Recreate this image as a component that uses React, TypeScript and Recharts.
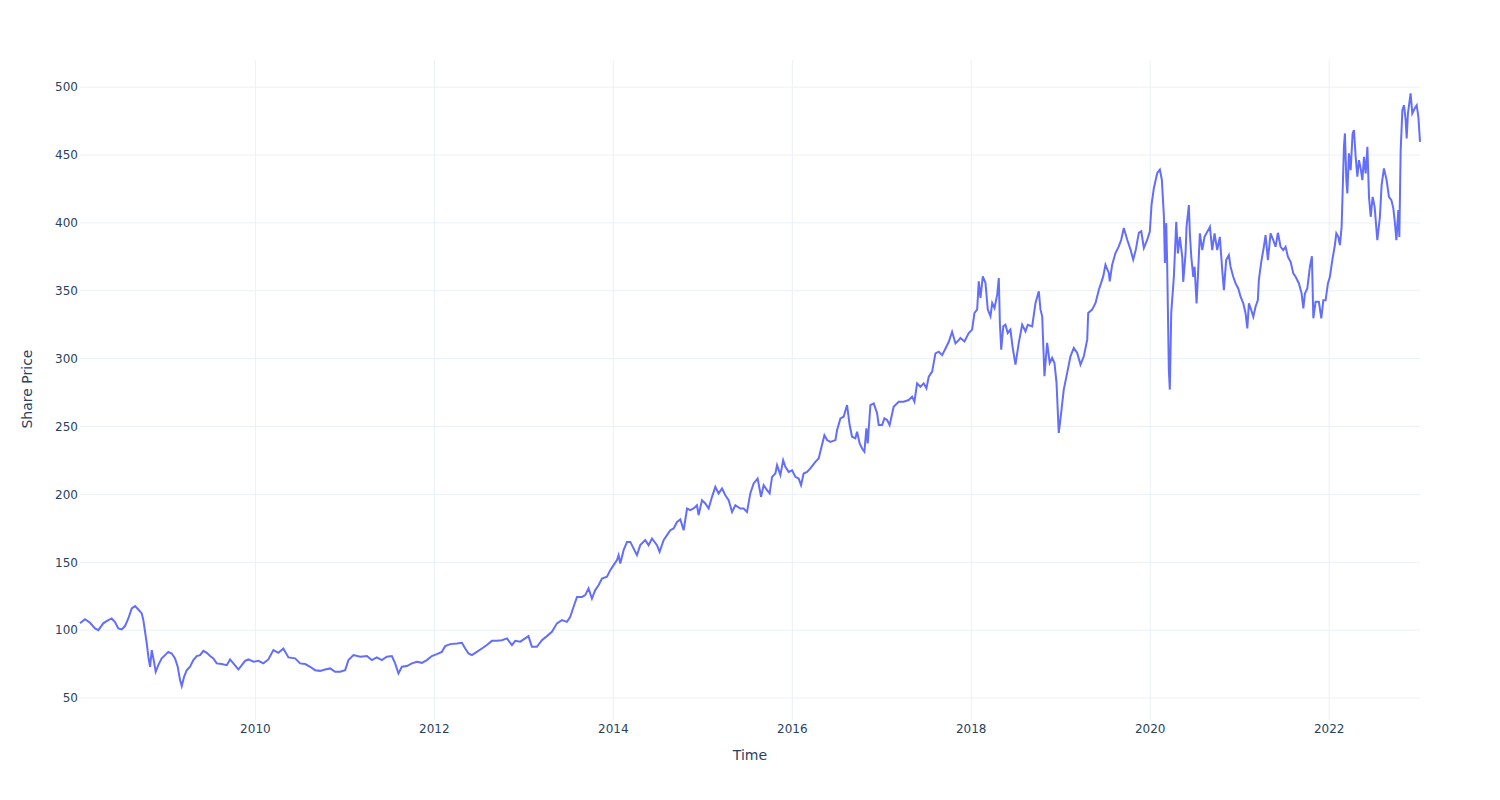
import { LineChart, Line, XAxis, YAxis, ReferenceLine } from "recharts";

// time in decimal years, price
const years2008 = [
  2008.040, 2008.096, 2008.152, 2008.208, 2008.245, 2008.300, 2008.356, 2008.394, 2008.431, 2008.468, 2008.506,
  2008.543, 2008.580, 2008.618, 2008.655, 2008.692, 2008.730, 2008.748, 2008.767, 2008.786,
  2008.804, 2008.823, 2008.842, 2008.867, 2008.886, 2008.915, 2008.953, 2008.990,
  2009.027, 2009.065, 2009.102, 2009.132, 2009.158, 2009.177, 2009.203, 2009.233, 2009.270, 2009.307, 2009.345, 2009.382, 2009.419,
  2009.457, 2009.494, 2009.530, 2009.568, 2009.624, 2009.680, 2009.717, 2009.754, 2009.810, 2009.848, 2009.885, 2009.922, 2009.978,
  2010.034, 2010.089, 2010.145, 2010.201, 2010.257, 2010.313, 2010.369, 2010.444, 2010.500, 2010.556, 2010.612, 2010.667,
  2010.723, 2010.779, 2010.835, 2010.891, 2010.947,
];
const prices2008 = [
  105, 108, 105.4, 101.2, 100, 105, 107.4, 108.6, 106, 101.2, 100.5,
  103, 108.6, 116, 117.7, 115.2, 112.3, 107.4, 98.8, 90.2,
  80.4, 73, 85.3, 76.7, 69.3, 74.2, 79.2, 81.6,
  84, 82.8, 79.2, 73, 63.2, 58.8, 65.6, 70.5, 73, 78, 80.9, 81.6, 84.8,
  83.3, 80.9, 79.2, 75.5, 75, 74.2, 78.4, 75.5, 71, 74.2, 77.4, 78.4, 76.7,
  77.4, 75.5, 78.4, 85.3, 83.3, 86.5, 79.9, 79.2, 75.5, 75, 73, 70.5,
  70, 71, 71.8, 69.3, 69.3,
];

const years2011 = [
  2011.003, 2011.040, 2011.096, 2011.171, 2011.246, 2011.301, 2011.357, 2011.413, 2011.469, 2011.525,
  2011.562, 2011.599, 2011.637, 2011.693, 2011.749, 2011.805, 2011.861, 2011.916, 2011.972,
  2012.028, 2012.084, 2012.121, 2012.177, 2012.252, 2012.308, 2012.345, 2012.382, 2012.420, 2012.475,
  2012.531, 2012.587, 2012.643, 2012.699, 2012.755, 2012.811, 2012.867, 2012.904, 2012.960,
  2013.015, 2013.052, 2013.090, 2013.146, 2013.202, 2013.258, 2013.314, 2013.370, 2013.426, 2013.482, 2013.519,
  2013.556, 2013.594, 2013.650, 2013.686, 2013.723, 2013.761, 2013.798, 2013.835, 2013.873, 2013.929, 2013.966,
  2014.003, 2014.041, 2014.059, 2014.078, 2014.115, 2014.153, 2014.190, 2014.226, 2014.264, 2014.301,
  2014.357, 2014.394, 2014.432, 2014.488, 2014.517, 2014.562, 2014.600, 2014.637, 2014.674, 2014.712,
  2014.749, 2014.786, 2014.824, 2014.860, 2014.897, 2014.935, 2014.953, 2014.991,
];
const prices2011 = [
  70.5, 77.9, 81.6, 80.4, 80.9, 77.9, 79.9, 77.9, 80.4, 80.9,
  75.5, 68.1, 73, 73.5, 75.5, 76.7, 75.9, 77.9, 80.9,
  82.3, 84, 88.2, 89.7, 90.2, 90.7, 86.5, 82.8, 81.6, 84,
  86.5, 89, 92.1, 92.1, 92.6, 93.9, 89, 92.1, 91.5,
  93.9, 95.6, 87.7, 87.7, 92.6, 95.6, 98.8, 105, 107.4, 106.1, 109.8,
  117.2, 124.5, 124.5, 125.8, 130.7, 123.3, 129.5, 133.1, 138, 139.3, 144.2,
  147.9, 151.6, 155.2, 149.1, 158.9, 165, 165, 160.2, 155.2, 162.6,
  166.3, 162.6, 167.5, 162.6, 157.7, 166.3, 170, 173.6, 174.9, 179.7,
  181.5, 173.6, 189.6, 188.4, 189.6, 192, 184.7, 195.7,
];

const years2015 = [
  2015.028, 2015.065, 2015.103, 2015.140, 2015.177, 2015.215, 2015.252, 2015.289, 2015.327, 2015.364,
  2015.419, 2015.456, 2015.494, 2015.531, 2015.568, 2015.613, 2015.651, 2015.680, 2015.718, 2015.747,
  2015.774, 2015.811, 2015.830, 2015.867, 2015.898, 2015.923, 2015.960, 2015.998,
  2016.035, 2016.071, 2016.098, 2016.127, 2016.165, 2016.202, 2016.258, 2016.295, 2016.322, 2016.359,
  2016.389, 2016.426, 2016.482, 2016.501, 2016.538, 2016.574, 2016.612, 2016.641, 2016.668, 2016.705,
  2016.724, 2016.753, 2016.780, 2016.806, 2016.828, 2016.843, 2016.873, 2016.910, 2016.948, 2016.966,
  2017.004, 2017.029, 2017.059, 2017.088, 2017.133, 2017.189, 2017.245, 2017.301, 2017.339, 2017.365,
  2017.395, 2017.432, 2017.469, 2017.499, 2017.525, 2017.563, 2017.600, 2017.637, 2017.675, 2017.712,
  2017.749, 2017.786, 2017.824, 2017.860, 2017.879, 2017.924, 2017.972,
];
const prices2015 = [
  193.3, 189.6, 198.2, 205.5, 200.7, 204.3, 199.4, 195.7, 187.1, 192,
  189.6, 189.6, 187.1, 200.7, 208.1, 211.7, 198.2, 206.8, 203.1, 200.7,
  212.9, 215.4, 221.5, 214.2, 225.2, 220.3, 216.6, 217.8,
  212.9, 211.7, 206.8, 215.4, 216.6, 219.1, 224, 226.5, 233.8, 243.6,
  240, 238.7, 240, 247.4, 256, 257.2, 265.8, 251.1, 242.5, 241.3,
  246.2, 237.6, 233.8, 231.4, 248.6, 237.6, 265.8, 267, 259.7, 251.1,
  251.1, 256, 254.8, 251.1, 264.6, 268.3, 268.3, 269.5, 272, 268.3,
  281.8, 279.3, 281.8, 278.1, 286.7, 290.4, 303.9, 305.1, 302.6, 307.5,
  312.4, 319.8, 311.2, 313.6, 315.2, 312.7, 318.9,
];

const years2018 = [
  2018.010, 2018.036, 2018.066, 2018.084, 2018.103, 2018.129, 2018.159, 2018.185, 2018.215, 2018.234,
  2018.260, 2018.290, 2018.308, 2018.320, 2018.335, 2018.358, 2018.382, 2018.408, 2018.438, 2018.461,
  2018.494, 2018.531, 2018.569, 2018.606, 2018.632, 2018.681, 2018.718, 2018.755, 2018.774, 2018.793,
  2018.818, 2018.848, 2018.877, 2018.904, 2018.930, 2018.953, 2018.978,
  2019.005, 2019.034, 2019.072, 2019.109, 2019.146, 2019.184, 2019.221, 2019.258, 2019.296, 2019.307,
  2019.351, 2019.389, 2019.426, 2019.445, 2019.475, 2019.500, 2019.537, 2019.548, 2019.575, 2019.612,
  2019.649, 2019.676, 2019.705, 2019.743, 2019.780, 2019.810, 2019.839, 2019.873, 2019.900, 2019.929,
  2019.967, 2019.996,
];
const prices2018 = [
  321.4, 333.7, 336.1, 357, 344.7, 360.6, 355.8, 336.1, 331.2, 341,
  337.3, 347.1, 359.4, 326.3, 306.6, 323.8, 325, 318.9, 321.4, 309.1,
  295.6, 311.6, 325, 320.1, 325, 323.8, 341, 349.6, 336.1, 331.2,
  287, 311.6, 296.8, 300.5, 296.8, 282.1, 245.3,
  260, 277.2, 289.5, 301.7, 307.9, 304.2, 295.6, 301.7, 314, 333.7,
  336.1, 341, 350.8, 354.5, 360.6, 369.2, 363.1, 357, 369.2, 377.8,
  382.7, 387.6, 396.3, 387.6, 380.3, 372.9, 380.3, 392.6, 393.8, 381.5,
  387.6, 393.8,
];

const years2020 = [
  2020.015, 2020.041, 2020.079, 2020.108, 2020.130, 2020.153, 2020.164, 2020.179, 2020.190, 2020.208,
  2020.219, 2020.235, 2020.264, 2020.291, 2020.309, 2020.331, 2020.358, 2020.369, 2020.395, 2020.406,
  2020.432, 2020.443, 2020.459, 2020.481, 2020.496, 2020.518, 2020.533, 2020.555, 2020.582, 2020.607,
  2020.638, 2020.667, 2020.693, 2020.719, 2020.749, 2020.778, 2020.805, 2020.823, 2020.849, 2020.879,
  2020.898, 2020.928, 2020.954, 2020.984,
  2021.010, 2021.040, 2021.066, 2021.085, 2021.103, 2021.129, 2021.152, 2021.177, 2021.203, 2021.214,
  2021.241, 2021.270, 2021.289, 2021.315, 2021.345, 2021.375, 2021.401, 2021.427, 2021.457, 2021.487,
  2021.513, 2021.539, 2021.569, 2021.599, 2021.625, 2021.662, 2021.692, 2021.711, 2021.729, 2021.756,
  2021.785, 2021.807, 2021.823, 2021.848, 2021.885, 2021.912, 2021.935, 2021.960, 2021.986,
];
const prices2020 = [
  413.4, 425.7, 436.8, 439.2, 431.8, 404.8, 370.5, 399.9, 368, 291.9,
  277.2, 333.7, 360, 400.8, 377.5, 389.7, 375, 356.6, 377.5, 397.1,
  413.1, 392.3, 375, 360.3, 367.7, 340.7, 360.3, 392.3, 380, 389.7,
  393.4, 397.1, 380, 392.3, 380, 389.7, 365.2, 350.5, 372.6, 376.3,
  367.7, 360.3, 355.4, 351.7,
  345.6, 340.7, 333.3, 322.3, 340.7, 335.8, 330.8, 338.2, 343.1, 357.9,
  371.3, 382.4, 391, 372.6, 392.3, 387.3, 382.4, 392.7, 382.4, 380,
  382.4, 375, 371.3, 362.8, 360.3, 355.4, 348, 337, 348, 351.7,
  367.7, 375.4, 329.7, 341.9, 341.9, 329.7, 343.1, 343.1, 355.4,
];

const years2022 = [
  2022.008, 2022.035, 2022.061, 2022.080, 2022.102, 2022.120, 2022.139, 2022.150, 2022.165, 2022.176,
  2022.192, 2022.203, 2022.221, 2022.240, 2022.262, 2022.277, 2022.296, 2022.315, 2022.333, 2022.352,
  2022.371, 2022.389, 2022.408, 2022.427, 2022.445, 2022.464, 2022.486, 2022.508, 2022.538, 2022.567,
  2022.586, 2022.612, 2022.642, 2022.668, 2022.695, 2022.717, 2022.735, 2022.751, 2022.773, 2022.784,
  2022.799, 2022.818, 2022.836, 2022.855, 2022.866, 2022.880, 2022.910, 2022.929, 2022.955, 2022.978,
  2022.997, 2023.015,
];
const prices2022 = [
  360.3, 372.6, 382.4, 392.3, 389.7, 383.6, 397.1, 421.7, 456, 465.9,
  431.5, 421.7, 451.2, 438.9, 465.9, 468.3, 448.7, 434, 446.2, 440.1,
  431.5, 448.7, 436.4, 456, 419.2, 404.5, 419.2, 411.8, 387.3, 404.5,
  427.8, 440.1, 431.5, 419.2, 416.8, 410.7, 399.6, 387.3, 409.4, 389.7,
  453.6, 483.1, 486.7, 475.7, 462.2, 480.6, 495.4, 480.6, 484.3, 486.7,
  478.1, 459.7,
];

const yearTicks = [2010, 2012, 2014, 2016, 2018, 2020, 2022];
const priceTicks = [50, 100, 150, 200, 250, 300, 350, 400, 450, 500];

const years = [...years2008, ...years2011, ...years2015, ...years2018, ...years2020, ...years2022];
const prices = [...prices2008, ...prices2011, ...prices2015, ...prices2018, ...prices2020, ...prices2022];
const data = years.map((t, i) => ({ t, price: prices[i] }));

const FONT = '"DejaVu Sans", Verdana, sans-serif';
const GRID = "#ebf0f8";
const tickStyle = { fill: "#2a3f5f", fontSize: 12, fontFamily: FONT };

export default function App() {
  return (
    <div style={{ position: "absolute", left: 0, top: 0, width: 1500, height: 800, background: "#fff" }}>
      <LineChart width={1500} height={800} data={data} margin={{ top: 60, right: 80, bottom: 50, left: 20 }}>
        <XAxis
          type="number"
          dataKey="t"
          domain={["dataMin", "dataMax"]}
          ticks={yearTicks}
          tickFormatter={(v: number) => String(v)}
          axisLine={false}
          tickLine={false}
          tickSize={0}
          tickMargin={4}
          height={30}
          tick={tickStyle}
        />
        <YAxis
          type="number"
          domain={[33.8, 520]}
          ticks={priceTicks}
          allowDataOverflow
          axisLine={false}
          tickLine={false}
          tickSize={0}
          tickMargin={2}
          width={60}
          tick={tickStyle}
        />
        {/* grid only at the tick values, no frame round the plot */}
        {priceTicks.map((v) => (
          <ReferenceLine key={"h" + v} y={v} stroke={GRID} strokeWidth={1} />
        ))}
        {yearTicks.map((v) => (
          <ReferenceLine key={"v" + v} x={v} stroke={GRID} strokeWidth={1} />
        ))}
        <Line
          type="linear"
          dataKey="price"
          stroke="#636efa"
          strokeWidth={2}
          dot={false}
          isAnimationActive={false}
        />
      </LineChart>
      <div
        style={{
          position: "absolute",
          left: 650,
          width: 200,
          top: 747,
          textAlign: "center",
          fontFamily: FONT,
          fontSize: 14,
          color: "#2a3f5f",
        }}
      >
        Time
      </div>
      <div
        style={{
          position: "absolute",
          left: 27 - 100,
          top: 381,
          width: 200,
          textAlign: "center",
          transform: "rotate(-90deg)",
          fontFamily: FONT,
          fontSize: 14,
          color: "#2a3f5f",
        }}
      >
        Share Price
      </div>
    </div>
  );
}
